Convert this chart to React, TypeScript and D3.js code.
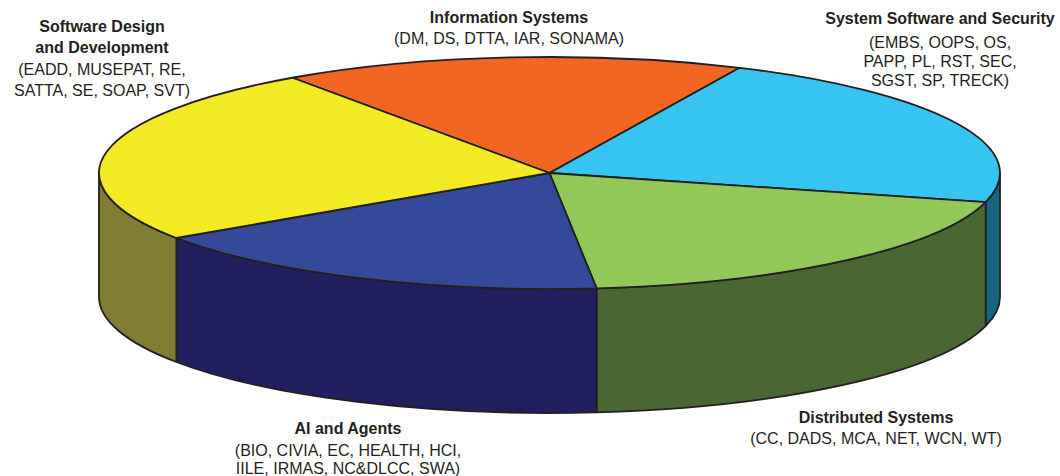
import React from 'react';
import * as d3 from 'd3';

// slice data, clockwise starting from the back-left (Information Systems)
const categories = [
  'Information Systems',
  'System Software and Security',
  'Distributed Systems',
  'AI and Agents',
  'Software Design and Development',
];
const shares = [16.6, 22.1, 19.3, 17.2, 24.8];
const titleLines = [
  ['Information Systems'],
  ['System Software and Security'],
  ['Distributed Systems'],
  ['AI and Agents'],
  ['Software Design', 'and Development'],
];
const subLines = [
  ['(DM, DS, DTTA, IAR, SONAMA)'],
  ['(EMBS, OOPS, OS,', 'PAPP, PL, RST, SEC,', 'SGST, SP, TRECK)'],
  ['(CC, DADS, MCA, NET, WCN, WT)'],
  ['(BIO, CIVIA, EC, HEALTH, HCI,', 'IILE, IRMAS, NC&DLCC, SWA)'],
  ['(EADD, MUSEPAT, RE,', 'SATTA, SE, SOAP, SVT)'],
];

const topColors = ['#F26522', '#36C5F1', '#92C857', '#34499A', '#F2EA22'];
const sideColors = ['#8A3A14', '#166580', '#496633', '#221F5E', '#807C33'];

// label placement: x centre, first title baseline, first sub baseline, sub line step
const labelLayout = [
  { x: 509, title: 22.5, sub: 43.5, step: 19.5 },
  { x: 940, title: 24, sub: 48, step: 19 },
  { x: 876, title: 423, sub: 444, step: 19.5 },
  { x: 348, title: 434, sub: 455.5, step: 18.5 },
  { x: 102, title: 32, sub: 75, step: 20.5 },
];

const W = 1060;
const H = 476;
const cx = 549.5;
const cy = 173;
const rx = 450.5;
const ry = 116;
const depth = 124;
const startDeg = -124.8;
const ink = '#231F20';

const pt = (t: number, dy = 0) => [cx + rx * Math.cos(t), cy + ry * Math.sin(t) + dy];

export default function App() {
  const start = (startDeg * Math.PI) / 180;
  const arcs = d3
    .pie<number>()
    .sort(null)
    .startAngle(start)
    .endAngle(start + 2 * Math.PI)(shares);

  // outer walls: only the front half (sin t > 0) is visible
  const walls: { d: string; i: number }[] = [];
  arcs.forEach((a, i) => {
    for (let k = -1; k <= 1; k++) {
      const lo = Math.max(a.startAngle, 2 * Math.PI * k);
      const hi = Math.min(a.endAngle, 2 * Math.PI * k + Math.PI);
      if (hi - lo > 1e-6) {
        const [x0, y0] = pt(lo);
        const [x1, y1] = pt(hi);
        const [x2, y2] = pt(hi, depth);
        const [x3, y3] = pt(lo, depth);
        const p = d3.path();
        p.moveTo(x0, y0);
        walls.push({
          d: `M${x0},${y0} A${rx},${ry} 0 0 1 ${x1},${y1} L${x2},${y2} A${rx},${ry} 0 0 0 ${x3},${y3} Z`,
          i,
        });
      }
    }
  });

  const tops = arcs.map((a, i) => {
    const [x0, y0] = pt(a.startAngle);
    const [x1, y1] = pt(a.endAngle);
    const large = a.endAngle - a.startAngle > Math.PI ? 1 : 0;
    return {
      d: `M${cx},${cy} L${x0},${y0} A${rx},${ry} 0 ${large} 1 ${x1},${y1} Z`,
      i,
    };
  });

  return (
    <svg
      width={W}
      height={H}
      style={{ position: 'absolute', left: 0, top: 0, background: '#fff' }}
      fontFamily="'Liberation Sans', Arial, sans-serif"
    >
      <g strokeLinejoin="round">
        {walls.map((w, k) => (
          <path key={'w' + k} d={w.d} fill={sideColors[w.i]} stroke={ink} strokeWidth={1.8} />
        ))}
        {tops.map((t) => (
          <path key={'t' + t.i} d={t.d} fill={topColors[t.i]} stroke={ink} strokeWidth={1.8} />
        ))}
      </g>
      {categories.map((c, i) => {
        const L = labelLayout[i];
        return (
          <g key={c} fill={ink} fontSize={16} textAnchor="middle">
            {titleLines[i].map((s, j) => (
              <text key={'h' + j} x={L.x} y={L.title + j * 21} fontWeight="bold">
                {s}
              </text>
            ))}
            {subLines[i].map((s, j) => (
              <text key={'s' + j} x={L.x} y={L.sub + j * L.step}>
                {s}
              </text>
            ))}
          </g>
        );
      })}
    </svg>
  );
}
